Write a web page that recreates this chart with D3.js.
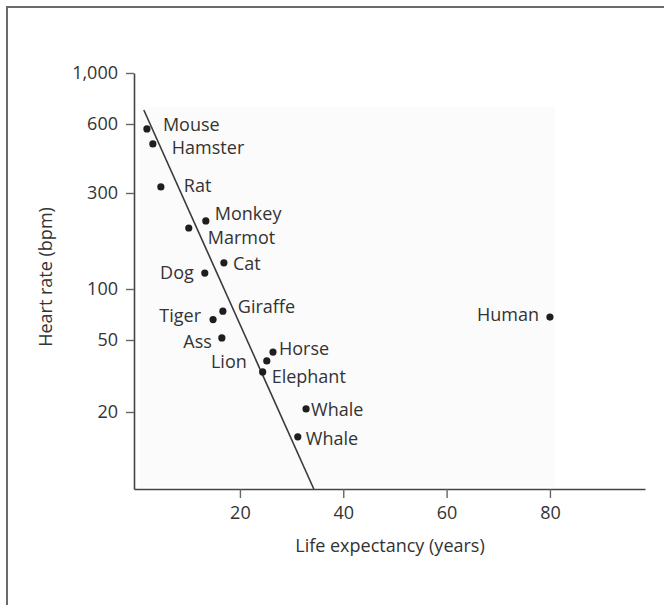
<!DOCTYPE html>
<html>
<head>
<meta charset="utf-8">
<script src="https://cdn.jsdelivr.net/npm/d3@7/dist/d3.min.js"></script>
<style>
  html, body { margin: 0; padding: 0; background: #fff; }
  svg { display: block; font-family: "Open Sans", "Noto Sans", sans-serif; }
</style>
</head>
<body>
<svg id="chart" width="664" height="605"></svg>
<script>
// ---- data ----
const animals = ["Mouse","Hamster","Rat","Monkey","Marmot","Cat","Dog","Giraffe","Tiger","Ass","Horse","Lion","Elephant","Whale","Whale","Human"];
const lifeExpectancy = [2.0, 3.15, 4.7, 13.4, 10.1, 16.9, 13.2, 16.7, 14.8, 16.5, 26.4, 25.2, 24.4, 32.8, 31.2, 80];
const heartRate = [571, 491, 319, 218, 201, 135, 120, 74, 66, 51.4, 42.9, 38.3, 33.3, 20.8, 16.0, 68.3];
// label placement: side ("r" right of dot / "l" left of dot), offsets in px
const labelSide = ["r","r","r","r","r","r","l","r","l","l","r","l","r","r","r","l"];
const labelDx = [16, 19, 23, 9, 19, 9, -11, 15, -12, -10, 6, -20, 9, 5, 8, -11];
const labelDy = [-4, 4, -1, -7, 10, 1, 0, -4, -4, 4, -3, 1, 5, 1, 2, -2];
// fitted line endpoints
const fitX = [1.4, 34.3];
const fitY = [690, 10];
// axis ticks
const yTicks = [20, 50, 100, 300, 600, 1000];
const xTicks = [20, 40, 60, 80];
// y-axis tick positions of the original figure are not exactly logarithmic
const yScaleDomain = [10, 20, 50, 100, 300, 600, 1000];
const yScaleRange  = [489, 412, 340, 289, 193, 124, 73];

const svg = d3.select("#chart");
const ink = "#333";

// frame (left + top only visible)
svg.append("path")
  .attr("d", "M7,605 L7,7 L664,7")
  .attr("fill", "none").attr("stroke", "#6a6a6a").attr("stroke-width", 2);

const x = d3.scaleLinear().domain([-0.5, 98.4]).range([134, 645]);
const y = d3.scaleLog().domain(yScaleDomain).range(yScaleRange);

// very faint plot background
svg.append("rect")
  .attr("x", 140).attr("y", 107).attr("width", 415).attr("height", 380)
  .attr("fill", "#fbfbfb");

// axes
const yAxis = d3.axisLeft(y).tickValues(yTicks).tickFormat(d3.format(",")).tickSize(8).tickPadding(8).tickSizeOuter(0);
const xAxis = d3.axisBottom(x).tickValues(xTicks).tickSize(9).tickPadding(8).tickSizeOuter(0);

const gy = svg.append("g").attr("transform", "translate(134,0)").call(yAxis);
const gx = svg.append("g").attr("transform", "translate(0,489)").call(xAxis);
[gx, gy].forEach(g => {
  g.select(".domain").attr("stroke", "#444").attr("stroke-width", 1.6);
  g.selectAll(".tick line").attr("stroke", "#666").attr("stroke-width", 1.4);
  g.selectAll(".tick text").attr("fill", ink).style("font-size", "18px").style("font-family", "Open Sans, sans-serif");
});

// axis titles
svg.append("text")
  .attr("x", 390).attr("y", 552)
  .attr("text-anchor", "middle").attr("fill", ink).style("font-size", "18px")
  .text("Life expectancy (years)");
svg.append("text")
  .attr("transform", "translate(52,277) rotate(-90)")
  .attr("text-anchor", "middle").attr("fill", ink).style("font-size", "18px")
  .text("Heart rate (bpm)");

// fitted line
svg.append("line")
  .attr("x1", x(fitX[0])).attr("y1", y(fitY[0]))
  .attr("x2", x(fitX[1])).attr("y2", y(fitY[1]))
  .attr("stroke", "#3a3a3a").attr("stroke-width", 1.6);

// points
const pts = animals.map((a, i) => ({ name: a, le: lifeExpectancy[i], hr: heartRate[i], side: labelSide[i], dx: labelDx[i], dy: labelDy[i] }));
svg.append("g").selectAll("circle").data(pts).join("circle")
  .attr("cx", d => x(d.le)).attr("cy", d => y(d.hr))
  .attr("r", 3.6).attr("fill", "#1e1e1e");

svg.append("g").selectAll("text").data(pts).join("text")
  .attr("x", d => x(d.le) + d.dx).attr("y", d => y(d.hr) + d.dy)
  .attr("dy", "0.35em")
  .attr("text-anchor", d => d.side === "l" ? "end" : "start")
  .attr("fill", ink).style("font-size", "18px")
  .text(d => d.name);
</script>
</body>
</html>
